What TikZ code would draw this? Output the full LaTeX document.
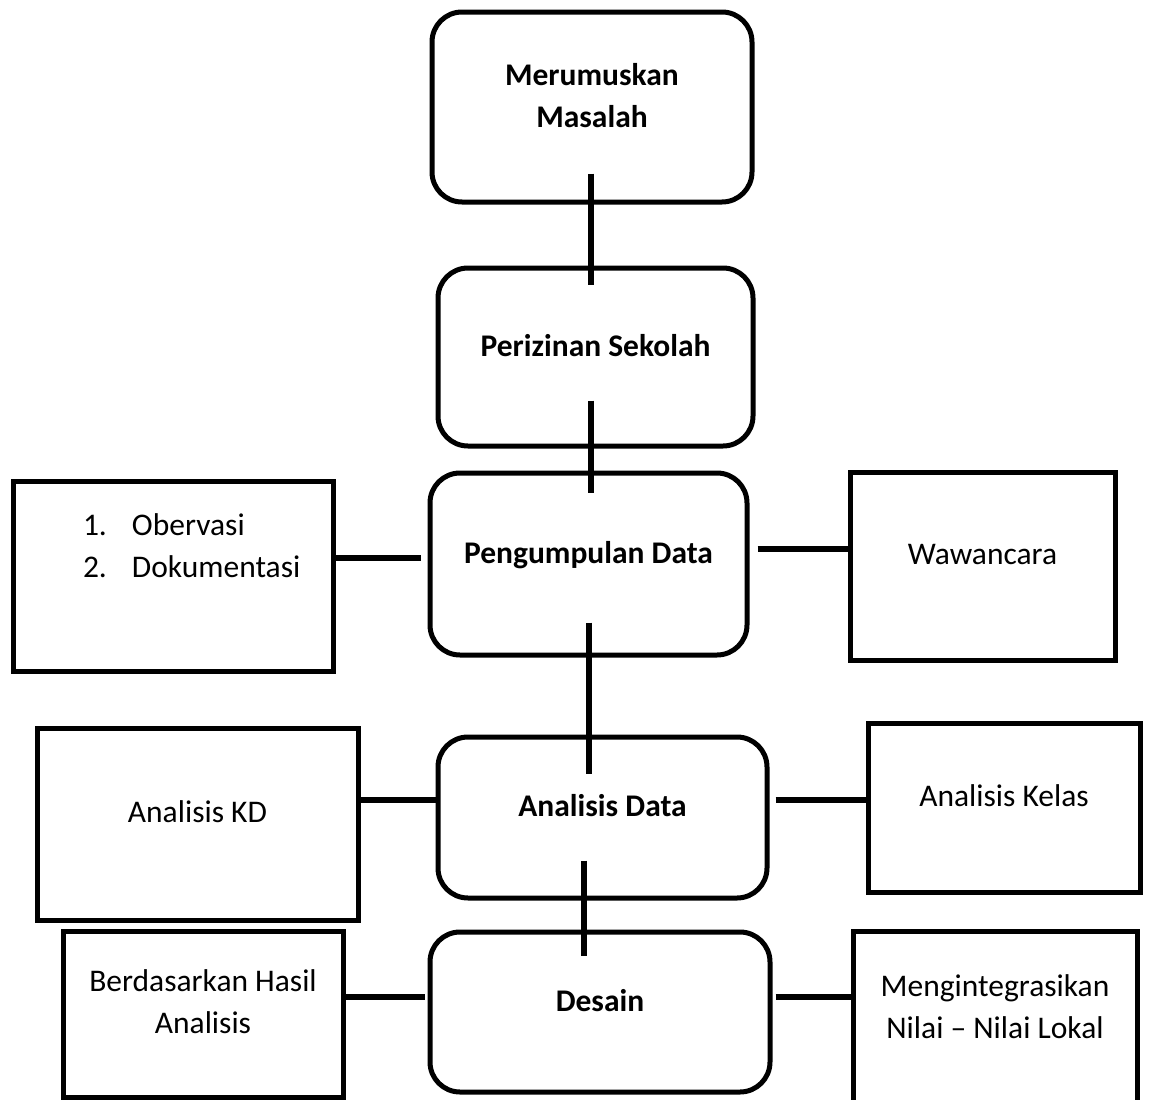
\documentclass[tikz,border=0pt]{standalone}
\usepackage{fontspec}
\setmainfont{Carlito}
\newcommand{\lowstrut}{\rule[-24pt]{0pt}{24pt}}

\begin{document}
\begin{tikzpicture}[x=1pt,y=-1pt,
        stage/.style={draw,line width=5pt,rounded corners=30pt,align=center,font=\fontsize{31.5}{42}\selectfont\bfseries,execute at end node=\lowstrut},
        side/.style={draw,line width=5pt,align=center,font=\fontsize{31.5}{42}\selectfont,execute at end node=\lowstrut},
        link/.style={line width=5.5pt}]
            \useasboundingbox (0,0) rectangle (1149,1100);
            \node [stage,minimum width=320pt,minimum height=190pt] (merumuskan) at (592,107) {Merumuskan\\Masalah};
            \node [stage,minimum width=315pt,minimum height=178pt] (perizinan) at (595.5,357) {Perizinan Sekolah};
            \node [stage,minimum width=317pt,minimum height=182pt] (pengumpulan) at (588.5,564) {Pengumpulan Data};
            \node [stage,minimum width=329pt,minimum height=161pt] (analisis) at (602.5,817.5) {Analisis Data};
            \node [stage,minimum width=340pt,minimum height=160pt] (desain) at (600,1012) {Desain};
            \node [side,minimum width=320pt,minimum height=190pt,align=left,text width=180pt] (obs) at (173,576) {\makebox[49pt][l]{1.}Obervasi\\\makebox[49pt][l]{2.}Dokumentasi\rule[-61pt]{0pt}{61pt}};
            \node [side,minimum width=265pt,minimum height=188pt] (wawancara) at (982.5,566) {Wawancara};
            \node [side,minimum width=321pt,minimum height=192pt] (kd) at (197.5,824) {Analisis KD};
            \node [side,minimum width=272pt,minimum height=169pt] (kelas) at (1004,807.5) {Analisis Kelas};
            \node [side,minimum width=280pt,minimum height=166pt] (hasil) at (203,1014) {Berdasarkan Hasil\\Analisis};
            \node [side,minimum width=284pt,minimum height=175pt] (lokal) at (995,1018.5) {Mengintegrasikan\\Nilai -- Nilai Lokal};
            \draw [link] ([xshift=-1pt,yshift=31pt]merumuskan.south) -- ([xshift=-4.5pt,yshift=-19pt]perizinan.north);
            \draw [link] ([xshift=-4.5pt,yshift=48pt]perizinan.south) -- ([xshift=2.5pt,yshift=-22pt]pengumpulan.north);
            \draw [link] ([xshift=0.5pt,yshift=35pt]pengumpulan.south) -- ([xshift=-13.5pt,yshift=-39pt]analisis.north);
            \draw [link] ([xshift=-18.5pt,yshift=40pt]analisis.south) -- ([xshift=-16pt,yshift=-26pt]desain.north);
            \draw [link] ([yshift=18pt]obs.east) -- ([xshift=-7pt,yshift=6pt]pengumpulan.west);
            \draw [link] ([xshift=8pt,yshift=15pt]pengumpulan.east) -- ([yshift=17pt]wawancara.west);
            \draw [link] ([yshift=24pt]kd.east) -- ([xshift=2pt,yshift=17.5pt]analisis.west);
            \draw [link] ([xshift=6pt,yshift=17.5pt]analisis.east) -- ([yshift=7.5pt]kelas.west);
            \draw [link] ([yshift=17pt]hasil.east) -- ([xshift=-3pt,yshift=15pt]desain.west);
            \draw [link] ([xshift=3pt,yshift=15pt]desain.east) -- ([yshift=21.5pt]lokal.west);
        \end{tikzpicture}
\end{document}
